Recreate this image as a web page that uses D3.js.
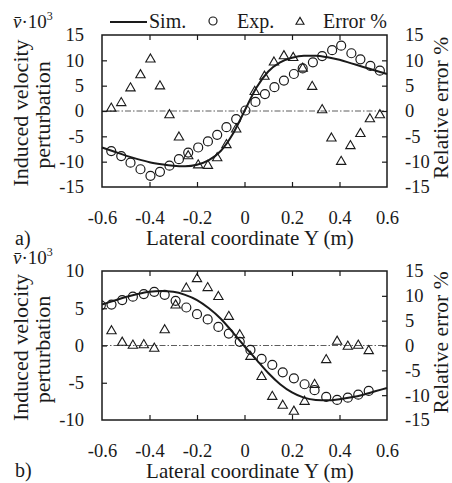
<!DOCTYPE html>
<html>
<head>
<meta charset="utf-8">
<script src="https://cdn.jsdelivr.net/npm/d3@7/dist/d3.min.js"></script>
<style>
  body { margin: 0; background: #fff; }
  svg { display: block; }
  text { font-family: 'Liberation Serif', 'Times New Roman', serif; fill: #1a1a1a; }
</style>
</head>
<body>
<svg id="chart" width="452" height="483"></svg>
<script>
// ---- data ----
var xTicks = [-0.6, -0.4, -0.2, 0, 0.2, 0.4, 0.6];
var xTickLabels = ["-0.6", "-0.4", "-0.2", "0", "0.2", "0.4", "0.6"];
var yTicksA = [15, 10, 5, 0, -5, -10, -15];
var yTicksB = [10, 5, 0, -5, -10];
var errTicks = [15, 10, 5, 0, -5, -10, -15];

// panel a)
var simXA = [-0.6, -0.55, -0.5, -0.45, -0.4, -0.35, -0.3, -0.25, -0.2, -0.15, -0.1, -0.05, 0,
             0.05, 0.1, 0.15, 0.2, 0.25, 0.3, 0.35, 0.4, 0.45, 0.5, 0.55, 0.6];
var simA = [-7.2, -8.0, -8.8, -9.5, -10.1, -10.5, -10.8, -10.9, -10.6, -9.7, -7.9, -4.6, 0,
            4.6, 7.8, 9.6, 10.5, 10.9, 10.9, 10.6, 10.1, 9.4, 8.7, 8.0, 7.3];
var expXA = [-0.561, -0.519, -0.480, -0.438, -0.396, -0.356, -0.316, -0.276, -0.237, -0.195,
             -0.154, -0.115, -0.076, -0.035, 0.004, 0.046, 0.086, 0.126, 0.166, 0.208,
             0.245, 0.288, 0.327, 0.369, 0.407, 0.450, 0.488, 0.530, 0.570];
var expA = [-7.9, -8.9, -10.2, -11.5, -12.8, -12.0, -10.8, -9.5, -8.2, -7.2,
            -6.0, -4.7, -3.2, -1.6, 0.1, 1.8, 3.35, 4.7, 6.0, 7.3,
            8.4, 9.6, 10.85, 12.0, 12.9, 11.4, 10.2, 8.9, 7.95];
var errXA = [-0.561, -0.519, -0.480, -0.438, -0.396, -0.356, -0.316, -0.276, -0.237, -0.195,
             -0.154, -0.115, -0.076, -0.035, 0.043, 0.084, 0.124, 0.166, 0.205,
             0.245, 0.285, 0.327, 0.366, 0.407, 0.446, 0.488, 0.528, 0.570];
var errA = [0.5, 1.6, 4.5, 7.1, 10.2, 4.9, -0.8, -5.2, -8.9, -10.7,
            -10.8, -9.3, -6.7, -3.6, 3.8, 6.8, 9.6, 10.85, 10.5,
            8.4, 4.8, 0.2, -5.4, -10.0, -6.9, -4.5, -1.6, -0.8];

// panel b)
var simXB = [-0.6, -0.55, -0.5, -0.45, -0.4, -0.35, -0.3, -0.25, -0.2, -0.15, -0.1, -0.05, 0,
             0.05, 0.1, 0.15, 0.2, 0.25, 0.3, 0.35, 0.4, 0.45, 0.5, 0.55, 0.6];
var simB = [5.5, 6.0, 6.5, 6.9, 7.2, 7.3, 7.2, 6.8, 6.1, 5.0, 3.6, 1.8, -0.1,
            -1.9, -3.7, -5.2, -6.3, -7.0, -7.3, -7.35, -7.2, -6.95, -6.6, -6.15, -5.7];
var expXB = [-0.605, -0.56, -0.515, -0.47, -0.424, -0.38, -0.336, -0.29, -0.245, -0.2,
             -0.155, -0.11, -0.066, -0.02, 0.025, 0.072, 0.117, 0.161, 0.208, 0.253,
             0.295, 0.344, 0.39, 0.435, 0.479, 0.523];
var expB = [5.4, 5.5, 6.1, 6.55, 6.9, 7.2, 6.8, 6.0, 5.1, 4.2,
            3.5, 2.5, 1.6, 0.5, -0.6, -1.8, -2.6, -3.6, -4.4, -5.2,
            -6.0, -6.9, -7.3, -7.0, -6.6, -6.1];
var errXB = [-0.56, -0.515, -0.47, -0.424, -0.38, -0.336, -0.29, -0.245, -0.2,
             -0.155, -0.11, -0.066, -0.02, 0.025, 0.072, 0.117, 0.161, 0.208, 0.253,
             0.295, 0.344, 0.39, 0.435, 0.479, 0.523];
var errB = [2.9, 0.6, 0.0, 0.1, -0.6, 3.1, 8.1, 11.5, 13.4,
            11.6, 9.8, 5.8, 2.1, -2.25, -6.3, -10.3, -12.1, -13.3, -11.3,
            -7.9, -2.9, 0.8, -0.2, 0.0, -1.1];

var svg = d3.select("#chart");
var ink = "#1a1a1a";
var serif = "'Liberation Serif','Times New Roman',serif";
var left = 102, right = 387;

var x = d3.scaleLinear().domain([-0.6, 0.6]).range([left, right]);

function drawPanel(p) {
  var y = d3.scaleLinear().domain(p.yDomain).range([p.bottom, p.top]);
  var y2 = d3.scaleLinear().domain([-15, 15]).range([p.bottom, p.top]);
  var g = svg.append("g");

  g.append("clipPath").attr("id", "clip" + p.name)
    .append("rect").attr("x", left).attr("y", p.top)
    .attr("width", right - left).attr("height", p.bottom - p.top);

  // zero line (dash-dot)
  g.append("line")
    .attr("x1", left).attr("x2", right)
    .attr("y1", y(0)).attr("y2", y(0))
    .attr("stroke", "#333").attr("stroke-width", 0.8)
    .attr("stroke-dasharray", "6,2,1.5,2");

  // inner ticks
  var inner = xTicks.slice(1, -1);
  g.append("g").attr("transform", "translate(0," + p.bottom + ")")
    .call(d3.axisBottom(x).tickValues(inner).tickSize(-5).tickSizeOuter(0).tickFormat(""))
    .call(function(s) { s.select(".domain").remove(); });
  g.append("g").attr("transform", "translate(0," + p.top + ")")
    .call(d3.axisTop(x).tickValues(inner).tickSize(-5).tickSizeOuter(0).tickFormat(""))
    .call(function(s) { s.select(".domain").remove(); });
  g.append("g").attr("transform", "translate(" + left + ",0)")
    .call(d3.axisLeft(y).tickValues(p.yTicks.slice(1, -1)).tickSize(-5).tickFormat(""))
    .call(function(s) { s.select(".domain").remove(); });
  g.append("g").attr("transform", "translate(" + right + ",0)")
    .call(d3.axisRight(y2).tickValues(errTicks.slice(1, -1)).tickSize(-5).tickFormat(""))
    .call(function(s) { s.select(".domain").remove(); });
  g.selectAll(".tick line").attr("stroke", ink).attr("stroke-width", 1.2);

  // tick labels
  g.append("g").attr("transform", "translate(0," + p.bottom + ")")
    .call(d3.axisBottom(x).tickValues(xTicks).tickSize(0).tickPadding(24)
      .tickFormat(function(d, i) { return xTickLabels[i]; }))
    .call(function(s) { s.select(".domain").remove(); });
  g.append("g").attr("transform", "translate(" + left + ",0)")
    .call(d3.axisLeft(y).tickValues(p.yTicks).tickSize(0).tickPadding(18)
      .tickFormat(function(d) { return String(d); }))
    .call(function(s) { s.select(".domain").remove(); });
  g.append("g").attr("transform", "translate(" + right + ",0)")
    .call(d3.axisRight(y2).tickValues(errTicks).tickSize(0).tickPadding(18)
      .tickFormat(function(d) { return String(d); }))
    .call(function(s) { s.select(".domain").remove(); });
  g.selectAll(".tick text").attr("font-size", 18.5)
    .attr("font-family", serif).attr("fill", ink);

  // simulation curve
  var line = d3.line().curve(d3.curveMonotoneX)
    .x(function(d) { return x(d[0]); }).y(function(d) { return y(d[1]); });
  g.append("path")
    .datum(p.simX.map(function(v, i) { return [v, p.sim[i]]; }))
    .attr("d", line).attr("fill", "none")
    .attr("stroke", ink).attr("stroke-width", 2);

  var marks = g.append("g").attr("clip-path", "url(#clip" + p.name + ")");
  // experiment circles
  marks.selectAll(".exp").data(p.expX).enter().append("circle")
    .attr("cx", function(d) { return x(d); })
    .attr("cy", function(d, i) { return y(p.exp[i]); })
    .attr("r", 4.5).attr("fill", "none").attr("stroke", ink).attr("stroke-width", 1.2);
  // error triangles (right axis)
  var tri = d3.symbol().type(d3.symbolTriangle).size(38);
  marks.selectAll(".err").data(p.errX).enter().append("path")
    .attr("d", tri)
    .attr("transform", function(d, i) { return "translate(" + x(d) + "," + y2(p.err[i]) + ")"; })
    .attr("fill", "none").attr("stroke", ink).attr("stroke-width", 1.1);

  // frame
  g.append("rect").attr("x", left).attr("y", p.top)
    .attr("width", right - left).attr("height", p.bottom - p.top)
    .attr("fill", "none").attr("stroke", ink).attr("stroke-width", 1.5);

  // axis titles
  var ym = (p.top + p.bottom) / 2;
  g.append("text").attr("transform", "translate(20," + (ym + 2) + ") rotate(-90)")
    .attr("text-anchor", "middle").attr("dy", "0.35em").attr("font-size", 22)
    .text("Induced velocity");
  g.append("text").attr("transform", "translate(42," + (ym + 4) + ") rotate(-90)")
    .attr("text-anchor", "middle").attr("dy", "0.35em").attr("font-size", 22)
    .text("perturbation");
  g.append("text").attr("transform", "translate(440," + (ym - 3) + ") rotate(-90)")
    .attr("text-anchor", "middle").attr("dy", "0.35em").attr("font-size", 21.5)
    .text("Relative error %");
  var vt = g.append("text").attr("x", 13).attr("y", p.top - 7).attr("font-size", 19);
  vt.append("tspan").attr("font-style", "italic").text("v\u0304");
  vt.append("tspan").text("\u00b710");
  vt.append("tspan").attr("font-size", 12).attr("dy", -8).text("3");

  g.append("text").attr("x", 250).attr("y", p.bottom + 58)
    .attr("text-anchor", "middle").attr("font-size", 21)
    .text("Lateral coordinate Y (m)");
  g.append("text").attr("x", 15).attr("y", p.bottom + p.labelDy)
    .attr("font-size", 20).text(p.name + ")");
}

drawPanel({ name: "a", top: 35, bottom: 187, yDomain: [-15, 15], yTicks: yTicksA, labelDy: 58,
  simX: simXA, sim: simA, expX: expXA, exp: expA, errX: errXA, err: errA });
drawPanel({ name: "b", top: 271, bottom: 420, yDomain: [-10, 10], yTicks: yTicksB, labelDy: 57,
  simX: simXB, sim: simB, expX: expXB, exp: expB, errX: errXB, err: errB });

// legend (top)
var lg = svg.append("g");
lg.append("line").attr("x1", 110).attr("x2", 147).attr("y1", 22).attr("y2", 22)
  .attr("stroke", ink).attr("stroke-width", 2);
lg.append("text").attr("x", 149).attr("y", 28).attr("font-size", 20).text("Sim.");
lg.append("circle").attr("cx", 213).attr("cy", 21).attr("r", 4)
  .attr("fill", "none").attr("stroke", ink).attr("stroke-width", 1.2);
lg.append("text").attr("x", 237).attr("y", 28).attr("font-size", 20).text("Exp.");
lg.append("path").attr("d", d3.symbol().type(d3.symbolTriangle).size(28))
  .attr("transform", "translate(300,22)")
  .attr("fill", "none").attr("stroke", ink).attr("stroke-width", 1.1);
lg.append("text").attr("x", 323).attr("y", 28).attr("font-size", 20).text("Error %");
</script>
</body>
</html>
